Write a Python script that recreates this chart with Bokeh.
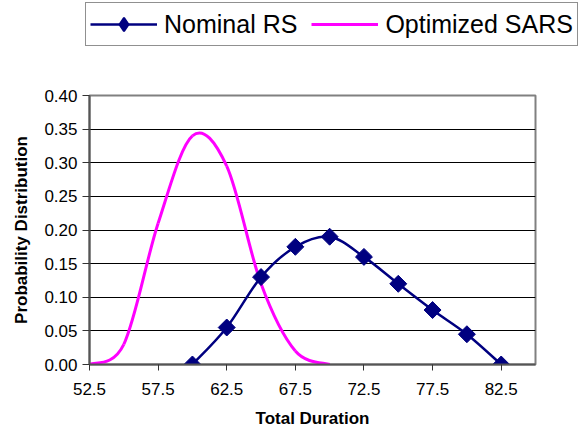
import math
from bokeh.plotting import figure
from bokeh.models import (Legend, LegendItem, FixedTicker, NumeralTickFormatter,
                          Range1d, ColumnDataSource)
from bokeh.embed import file_html
from bokeh.resources import INLINE

# ---- data ----
nominal_x = [60.0, 62.5, 65.0, 67.5, 70.0, 72.5, 75.0, 77.5, 80.0, 82.5]
nominal_y = [0.0, 0.055, 0.13, 0.175, 0.19, 0.16, 0.12, 0.081, 0.045, 0.0]
sars_x = [52.5, 55.0, 57.5, 60.0, 62.5, 65.0, 67.5, 70.0]
sars_y = [0.0, 0.03, 0.21, 0.34, 0.295, 0.12, 0.02, 0.0]
x_ticks = [52.5, 57.5, 62.5, 67.5, 72.5, 77.5, 82.5]
y_ticks = [0.0, 0.05, 0.10, 0.15, 0.20, 0.25, 0.30, 0.35, 0.40]
series_names = ["Nominal RS", "Optimized SARS"]
x_title = "Total Duration"
y_title = "Probability Distribution"

FONT = "Liberation Sans"
NAVY = "#000080"
MAGENTA = "#FF00FF"
LEG_H = 50


def smooth_source(xs, ys, t=1.0 / 6.0):
    """Control points of a smoothed (Catmull-Rom style) Bezier path through the data."""
    n = len(xs)
    d = dict(x0=[], y0=[], x1=[], y1=[], cx0=[], cy0=[], cx1=[], cy1=[])
    for i in range(n - 1):
        im1 = max(i - 1, 0)
        ip2 = min(i + 2, n - 1)
        d["x0"].append(xs[i]); d["y0"].append(ys[i])
        d["x1"].append(xs[i + 1]); d["y1"].append(ys[i + 1])
        d["cx0"].append(xs[i] + (xs[i + 1] - xs[im1]) * t)
        d["cy0"].append(ys[i] + (ys[i + 1] - ys[im1]) * t)
        d["cx1"].append(xs[i + 1] - (xs[ip2] - xs[i]) * t)
        d["cy1"].append(ys[i + 1] - (ys[ip2] - ys[i]) * t)
    return ColumnDataSource(d)


def draw_series(fig, legend_strip=False):
    r_s = fig.bezier(x0="x0", y0="y0", x1="x1", y1="y1", cx0="cx0", cy0="cy0",
                     cx1="cx1", cy1="cy1", source=smooth_source(sars_x, sars_y),
                     line_color=MAGENTA, line_width=3)
    r_nl = fig.bezier(x0="x0", y0="y0", x1="x1", y1="y1", cx0="cx0", cy0="cy0",
                      cx1="cx1", cy1="cy1", source=smooth_source(nominal_x, nominal_y),
                      line_color=NAVY, line_width=2.5)
    if legend_strip:
        r_np = fig.scatter(nominal_x, nominal_y, marker="diamond", size=20,
                           fill_color=NAVY, line_color=NAVY, line_width=2)
    else:
        r_np = fig.scatter(nominal_x, nominal_y, marker="square", size=12,
                           angle=math.pi / 4, fill_color=NAVY, line_color=NAVY)
    return r_s, r_nl, r_np


# ---------------- main chart ----------------
p = figure(width=588, height=431 - LEG_H, output_backend="svg", toolbar_location=None,
           x_range=Range1d(52.5, 85.0), y_range=Range1d(0, 0.40),
           min_border_left=89, min_border_right=53, min_border_top=95 - LEG_H,
           min_border_bottom=67)
p.background_fill_color = "white"
p.border_fill_color = "white"
p.outline_line_color = "#808080"
p.outline_line_width = 2

p.xgrid.visible = False
p.ygrid.ticker = FixedTicker(ticks=y_ticks[1:-1])
p.ygrid.grid_line_color = "black"
p.ygrid.grid_line_width = 1

for ax in (p.xaxis[0], p.yaxis[0]):
    ax.axis_line_color = "#555555"
    ax.axis_line_width = 2
    ax.major_tick_line_color = "#333333"
    ax.major_tick_line_width = 1
    ax.minor_tick_line_color = None
    ax.major_tick_in = 0
    ax.major_label_text_font = FONT
    ax.major_label_text_font_size = "17px"
    ax.major_label_text_color = "black"
    ax.axis_label_text_font = FONT
    ax.axis_label_text_font_size = "17px"
    ax.axis_label_text_font_style = "bold"
    ax.axis_label_text_color = "black"

p.xaxis.ticker = FixedTicker(ticks=x_ticks)
p.xaxis.major_tick_out = 6
p.xaxis.major_label_standoff = 12
p.xaxis.axis_label = x_title
p.xaxis.axis_label_standoff = 11

p.yaxis.ticker = FixedTicker(ticks=y_ticks)
p.yaxis.formatter = NumeralTickFormatter(format="0.00")
p.yaxis.major_tick_out = 7
p.yaxis.major_label_standoff = 5
p.yaxis.axis_label = y_title
p.yaxis.axis_label_standoff = 10

draw_series(p)

# ---------------- legend strip (separate root, no frame alignment) ----------------
lf = figure(width=588, height=LEG_H, output_backend="svg", toolbar_location=None,
            x_range=Range1d(0, 1), y_range=Range1d(0, 1),
            x_axis_type=None, y_axis_type=None,
            min_border_left=0, min_border_right=0, min_border_top=0, min_border_bottom=0)
lf.outline_line_color = None
lf.xgrid.visible = False
lf.ygrid.visible = False
lf.background_fill_color = "white"
lf.border_fill_color = "white"
ls, lnl, lnp = draw_series(lf, legend_strip=True)  # data outside strip ranges; legend keys only

legend = Legend(items=[LegendItem(label=series_names[0], renderers=[lnl, lnp]),
                       LegendItem(label=series_names[1], renderers=[ls])],
                location=(85, LEG_H - 46), orientation="horizontal")
legend.label_text_font = FONT
legend.label_text_font_size = "25px"
legend.label_text_color = "black"
legend.glyph_width = 67
legend.glyph_height = 34
legend.label_standoff = 7
legend.spacing = 14
legend.padding = 4
legend.margin = 0
legend.border_line_color = "#222222"
legend.border_line_width = 1
legend.background_fill_color = "white"
legend.background_fill_alpha = 1
lf.add_layout(legend)

open("out.html", "w").write(file_html([lf, p], INLINE))
